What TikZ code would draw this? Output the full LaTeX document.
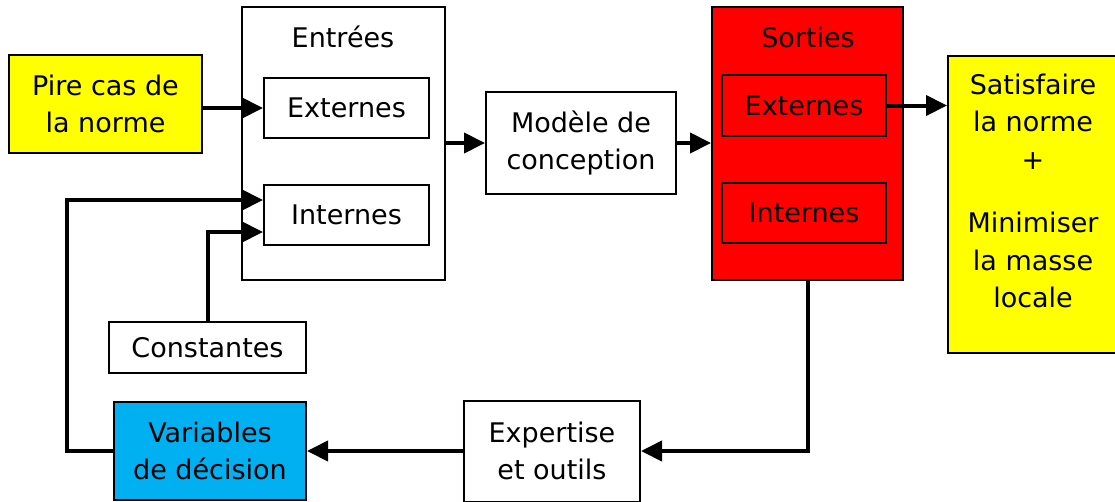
\documentclass[tikz,border=0pt]{standalone}
\usepackage{fontspec}
\setmainfont{DejaVu Sans}
\usetikzlibrary{arrows.meta}
\definecolor{ylw}{HTML}{FFFF00}
\definecolor{rd}{HTML}{FF0000}
\definecolor{cy}{HTML}{00B0F0}
\tikzset{
  blk/.style={draw=black, line width=2pt, inner sep=0pt, align=center, font=\fontsize{27}{37.5}\selectfont},
  lbl/.style={inner sep=0pt, font=\fontsize{27}{37.5}\selectfont},
  conn/.style={line width=4pt, -{Triangle[length=21pt,width=20pt]}},
}
\begin{document}
\begin{tikzpicture}[x=1pt,y=-1pt]
\clip (0,0) rectangle (1115,501);
\useasboundingbox (0,0) rectangle (1115,501);
\fill[white] (0,0) rectangle (1115,501);
% left column
\node[blk, fill=ylw, minimum width=193pt, minimum height=98pt] (pire) at (105.5,104) {Pire cas de\\la norme};
\node[blk, fill=white, minimum width=203pt, minimum height=273pt] (entrees) at (343.5,143.5) {};
\node[lbl] (entreesLbl) at (343,37) {Entrées};
\node[blk, minimum width=165pt, minimum height=60pt] (extIn) at (346.5,108) {Externes};
\node[blk, minimum width=165pt, minimum height=60pt] (intIn) at (346.5,215) {Internes};
\node[blk, minimum width=190pt, minimum height=102pt] (modele) at (581,143) {Modèle de\\conception};
\node[blk, fill=rd, minimum width=191pt, minimum height=273pt] (sorties) at (807.5,143.5) {};
\node[lbl] (sortiesLbl) at (808,37) {Sorties};
\node[blk, fill=rd, minimum width=164pt, minimum height=61pt] (extOut) at (804,105.5) {Externes};
\node[blk, fill=rd, minimum width=164pt, minimum height=60pt] (intOut) at (804,213) {Internes};
\node[blk, fill=ylw, minimum width=178pt, minimum height=297pt, anchor=north west] (satis) at (947,55) {};
\node[lbl, align=center] (satisTxt) at (1033,191) {Satisfaire\\la norme\\+\\[26pt]Minimiser\\la masse\\locale};
\node[blk, minimum width=197pt, minimum height=51pt] (const) at (207.5,347.5) {Constantes};
\node[blk, fill=cy, minimum width=192pt, minimum height=98pt] (vars) at (210,451) {Variables\\de décision};
\node[blk, minimum width=176pt, minimum height=101pt] (expert) at (552,451) {Expertise\\et outils};
% connectors
\coordinate (loopL) at (67,200);
\draw[conn] (pire.east |- extIn.west) -- (extIn.west);
\draw[conn] (entrees.east |- modele.west) -- (modele.west);
\draw[conn] (modele.east) -- (modele.east -| sorties.west);
\draw[conn] (extOut.east) -- (extOut.east -| satis.west);
\draw[conn] (sorties.south) |- (expert.east);
\draw[conn] (expert.west) -- (vars.east);
\draw[conn] (vars.west) -| (loopL) -- (loopL -| intIn.west);
\draw[conn] (const.north) |- ([yshift=-17pt]intIn.west);
\end{tikzpicture}
\end{document}
